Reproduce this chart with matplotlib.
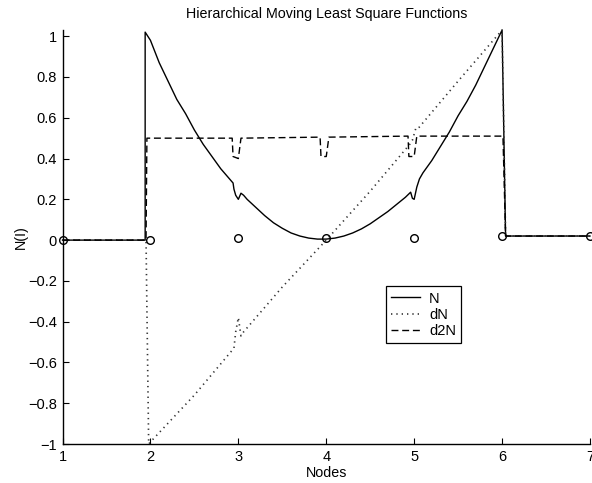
"""
Hierarchical moving least square shape function N with its first and
second derivatives (dN, d2N) over nodes 1..7, MATLAB-style line plot.
Saves out.png.
"""
import matplotlib
matplotlib.use('Agg')
import matplotlib.pyplot as plt

plt.rcParams['font.family'] = ['Liberation Sans', 'DejaVu Sans']

# nodes (circles)
node_x = [1, 2, 3, 4, 5, 6, 7]
node_y = [0.0, 0.0, 0.01, 0.01, 0.01, 0.02, 0.02]

# shape function N
N_x = [1.0, 1.94, 1.94, 2.0, 2.1, 2.2, 2.3, 2.4, 2.5, 2.6, 2.7, 2.8, 2.9, 2.94,
       2.95, 2.97, 3.0, 3.03, 3.06, 3.1, 3.2, 3.3, 3.4, 3.5, 3.6, 3.7, 3.8, 3.9,
       4.0, 4.1, 4.2, 4.3, 4.4, 4.5, 4.6, 4.7, 4.8, 4.9, 4.96, 4.98, 5.0, 5.03,
       5.06, 5.1, 5.2, 5.3, 5.4, 5.5, 5.6, 5.7, 5.8, 5.9, 6.0, 6.04, 7.0]
N_y = [0.0, 0.0, 1.02, 0.98, 0.87, 0.78, 0.69, 0.62, 0.54, 0.47, 0.41, 0.35, 0.30, 0.28,
       0.25, 0.22, 0.20, 0.23, 0.22, 0.20, 0.16, 0.12, 0.085, 0.058, 0.035, 0.02, 0.01, 0.005,
       0.005, 0.01, 0.02, 0.035, 0.055, 0.08, 0.11, 0.14, 0.175, 0.21, 0.235, 0.205, 0.20, 0.26,
       0.30, 0.33, 0.39, 0.46, 0.53, 0.61, 0.68, 0.76, 0.85, 0.94, 1.03, 0.02, 0.02]

# first derivative dN
dN_x = [1.0, 1.95, 1.98, 2.0, 2.5, 2.95, 2.97, 3.0, 3.03, 3.06, 3.5, 4.0, 4.5,
        4.95, 4.98, 5.02, 5.05, 5.5, 6.0, 6.04, 7.0]
dN_y = [0.0, 0.0, -1.0, -0.99, -0.76, -0.53, -0.45, -0.38, -0.47, -0.45, -0.23, 0.0, 0.24,
        0.47, 0.49, 0.55, 0.55, 0.78, 1.03, 0.02, 0.02]

# second derivative d2N
d2N_x = [1.0, 1.95, 1.96, 2.93, 2.94, 3.0, 3.03, 3.93, 3.94, 4.0, 4.03,
         4.93, 4.94, 5.0, 5.03, 6.01, 6.04, 7.0]
d2N_y = [0.0, 0.0, 0.50, 0.50, 0.41, 0.40, 0.50, 0.505, 0.41, 0.41, 0.505,
         0.51, 0.41, 0.41, 0.51, 0.51, 0.02, 0.02]

yticks = [-1, -0.8, -0.6, -0.4, -0.2, 0, 0.2, 0.4, 0.6, 0.8, 1]
ytick_labels = ['\u22121', '\u22120.8', '\u22120.6', '\u22120.4', '\u22120.2', '0',
                '0.2', '0.4', '0.6', '0.8', '1']
xticks = [1, 2, 3, 4, 5, 6, 7]

fig = plt.figure(figsize=(5.92, 4.83), dpi=100)
ax = fig.add_axes([0.1056, 0.0807, 0.891, 0.857])

ax.plot(N_x, N_y, '-', color='black', lw=1.0, label='N', clip_on=False)
ax.plot(dN_x, dN_y, color='#333333', lw=1.2, linestyle=(0, (0.8, 2.4)),
        label='dN', clip_on=False)
ax.plot(d2N_x, d2N_y, color='black', lw=1.0, linestyle=(0, (5, 2.7)),
        label='d2N', clip_on=False)
ax.plot(node_x, node_y, 'o', mfc='none', mec='black', mew=1.0, ms=5.5, clip_on=False)

ax.set_xlim(1, 7)
ax.set_ylim(-1, 1.03)
ax.set_xticks(xticks)
ax.set_yticks(yticks)
ax.set_yticklabels(ytick_labels)
ax.tick_params(direction='in', length=4, width=0.8, labelsize=10.5, pad=4)

for s in ('top', 'right'):
    ax.spines[s].set_visible(False)
for s in ('left', 'bottom'):
    ax.spines[s].set_linewidth(1.0)

ax.set_title('Hierarchical Moving Least Square Functions', fontsize=10.3, pad=9)
ax.set_xlabel('Nodes', fontsize=10.3, labelpad=2)
ax.set_ylabel('N(I)', fontsize=10.3, labelpad=0)

leg = ax.legend(loc='lower left', bbox_to_anchor=(0.613, 0.244), borderaxespad=0,
                fontsize=10.5, handlelength=2.0, handletextpad=0.6, labelspacing=0.15,
                borderpad=0.35, fancybox=False, framealpha=1, edgecolor='black')
leg.get_frame().set_linewidth(0.9)

fig.savefig('out.png', dpi=100)
